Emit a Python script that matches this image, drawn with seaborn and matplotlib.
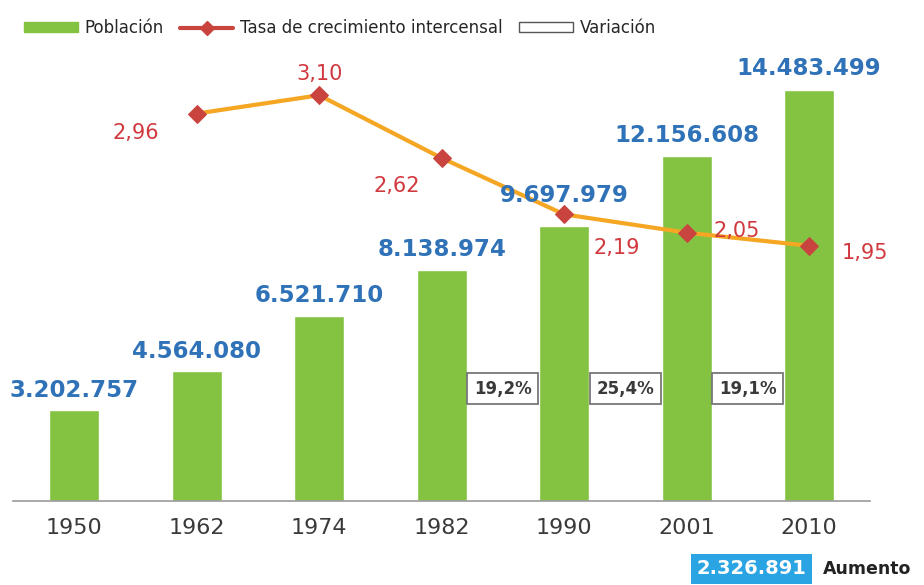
import numpy as np
import pandas as pd
import seaborn as sns
import matplotlib.pyplot as plt
from matplotlib.patches import Patch
from matplotlib.lines import Line2D

anios = ["1950", "1962", "1974", "1982", "1990", "2001", "2010"]
poblacion = [3202757, 4564080, 6521710, 8138974, 9697979, 12156608, 14483499]
tasa_anios = ["1962", "1974", "1982", "1990", "2001", "2010"]
tasa = [2.96, 3.10, 2.62, 2.19, 2.05, 1.95]
variacion_pos = [3.5, 4.5, 5.5]
variacion = ["19,2%", "25,4%", "19,1%"]
aumento = "2.326.891"

VERDE = "#83c341"
AZUL = "#2f72b8"
ROJO = "#d1393f"
NARANJA = "#f5a623"

sns.set_style("white")
plt.rcParams["font.family"] = ["DejaVu Sans"]

fig = plt.figure(figsize=(9.24, 5.85), dpi=100)
ax = fig.add_axes([0.014, 0.1436, 0.928, 0.754])

df = pd.DataFrame({"anio": anios, "poblacion": poblacion})
sns.barplot(data=df, x="anio", y="poblacion", color=VERDE, saturation=1,
            width=0.41, ax=ax)
ax.set_ylim(0, 15.53e6)
ax.set_xlim(-0.5, 6.5)

# linea de tasa en eje secundario
ax2 = ax.twinx()
pos = [anios.index(a) for a in tasa_anios]
sns.lineplot(x=pos, y=tasa, ax=ax2, color=NARANJA, lw=3, marker="D",
             markersize=9, markerfacecolor="#c9443f", markeredgecolor="#c9443f")
ax2.set_ylim(0, 3.37)
ax2.set_xlim(-0.5, 6.5)


def fmt(v):
    return f"{v:,}".replace(",", ".")


# etiquetas de poblacion encima de todo
subida = [6, 6, 6, 6, 13, 6, 7]
for i, v in enumerate(poblacion):
    ax2.annotate(fmt(v), (i, v), xycoords=ax.transData, xytext=(0, subida[i]),
                 textcoords="offset points", ha="center", va="bottom",
                 fontsize=16.5, fontweight="bold", color=AZUL, zorder=5)

for x, t in zip(variacion_pos, variacion):
    ax2.text(x, 3.95e6, t, transform=ax.transData, ha="center", va="center",
             fontsize=12, fontweight="bold", color="#3a3a3a",
             bbox=dict(boxstyle="square,pad=0.4", fc="white", ec="#777777", lw=1.3))

offsets = [(-44, -14), (0, 15), (-32, -20), (38, -24), (36, 1), (40, -5)]
for x, y, off in zip(pos, tasa, offsets):
    ax2.annotate(f"{y:.2f}".replace(".", ","), (x, y), xytext=off,
                 textcoords="offset points", ha="center", va="center",
                 fontsize=15, color=ROJO)

for a in (ax, ax2):
    for s in ["top", "left", "right"]:
        a.spines[s].set_visible(False)
    a.set_yticks([])
    a.set_ylabel("")
ax2.spines["bottom"].set_visible(False)
ax.spines["bottom"].set_color("#9a9a9a")
ax.spines["bottom"].set_linewidth(1.2)
ax.set_xlabel("")
ax.set_xticks(range(len(anios)))
ax.set_xticklabels(anios, fontsize=16, color="#3a3a3a")
ax.set_xticks(np.arange(-0.5, 7, 1), minor=True)
ax.tick_params(axis="x", which="major", length=0, pad=12)
ax.tick_params(axis="x", which="minor", length=6, color="#9a9a9a", direction="inout")

# aumento
ax.text(5.53, -0.154, aumento, transform=ax.get_xaxis_transform(), ha="center",
        va="center", fontsize=14, fontweight="bold", color="white",
        bbox=dict(boxstyle="square,pad=0.3", fc="#2aa4e2", ec="none"))
ax.text(6.47, -0.154, "Aumento", transform=ax.get_xaxis_transform(), ha="center",
        va="center", fontsize=12.5, fontweight="bold", color="#222222")

handles = [
    Patch(color=VERDE),
    Line2D([], [], color="#c9443f", lw=3, marker="D", markersize=7),
    Patch(fc="white", ec="#555555", lw=1),
]
fig.legend(handles, ["Población", "Tasa de crecimiento intercensal", "Variación"],
           loc="center left", bbox_to_anchor=(0.01, 0.952), ncol=3, frameon=False,
           fontsize=12, handlelength=3.2, handleheight=0.5, columnspacing=1.0,
           handletextpad=0.4)

fig.savefig("out.png", dpi=100)
